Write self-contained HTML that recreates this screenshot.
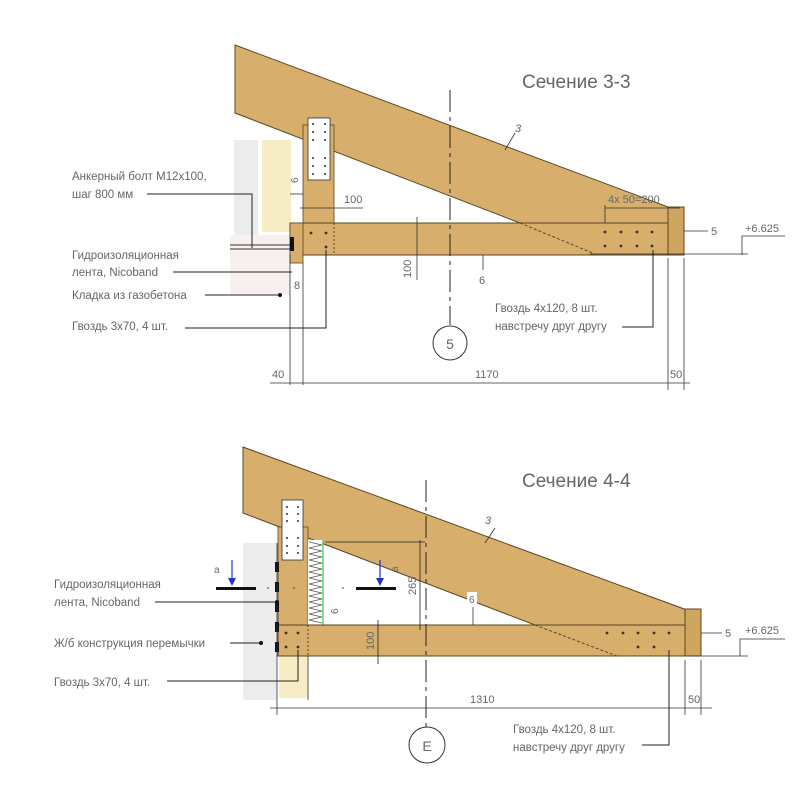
<!DOCTYPE html>
<html><head><meta charset="utf-8"><style>
html,body{margin:0;padding:0;background:#fff;}
svg{display:block;}
text{font-family:"Liberation Sans",sans-serif;fill:#666;}
</style></head><body>
<svg width="805" height="800" viewBox="0 0 805 800" xmlns="http://www.w3.org/2000/svg">
<!-- ===== TOP SECTION 3-3 ===== -->
<rect x="234" y="140" width="24" height="95" fill="#ececec"/>
<rect x="230" y="235" width="60" height="60" fill="#f7f0ee"/>
<rect x="262" y="140" width="29" height="92" fill="#f7edc5"/>
<!-- rafter -->
<polygon points="235,45 668,207 668,223 520,223 235,113" fill="#d8ae6c" stroke="#5a4520" stroke-width="1"/>
<!-- post -->
<rect x="303" y="125" width="31" height="98" fill="#d8ae6c" stroke="#5a4520" stroke-width="0.8"/>
<!-- beam -->
<rect x="290" y="223" width="378" height="32" fill="#d8ae6c" stroke="#5a4520" stroke-width="1"/>
<rect x="290" y="223" width="13" height="40" fill="#d8ae6c" stroke="#5a4520" stroke-width="0.8"/>
<line x1="520" y1="223" x2="595" y2="254" stroke="#5a4520" stroke-dasharray="3,2"/>
<line x1="334" y1="223" x2="334" y2="255" stroke="#5a4520" stroke-dasharray="2,2"/>
<rect x="668" y="207" width="16" height="48" fill="#d0a560" stroke="#5a4520" stroke-width="1"/>
<!-- plate -->
<rect x="308" y="118" width="22" height="62" fill="#fff" stroke="#333" stroke-width="0.8"/>
<g fill="#333">
<circle cx="313" cy="124" r="1"/><circle cx="325" cy="124" r="1"/><circle cx="313" cy="132" r="1"/><circle cx="325" cy="132" r="1"/><circle cx="313" cy="140" r="1"/><circle cx="325" cy="140" r="1"/>
<circle cx="313" cy="158" r="1"/><circle cx="325" cy="158" r="1"/><circle cx="313" cy="166" r="1"/><circle cx="325" cy="166" r="1"/><circle cx="313" cy="174" r="1"/><circle cx="325" cy="174" r="1"/>
<circle cx="311" cy="233" r="1.4"/><circle cx="326" cy="233" r="1.4"/><circle cx="326" cy="247" r="1.4"/>
<circle cx="605" cy="232" r="1.4"/><circle cx="621" cy="232" r="1.4"/><circle cx="637" cy="232" r="1.4"/><circle cx="652" cy="232" r="1.4"/>
<circle cx="605" cy="246" r="1.4"/><circle cx="621" cy="246" r="1.4"/><circle cx="637" cy="246" r="1.4"/><circle cx="652" cy="246" r="1.4"/>
</g>
<rect x="290" y="237" width="4" height="14" fill="#111"/>
<line x1="230" y1="245" x2="290" y2="245" stroke="#333"/>
<line x1="230" y1="249" x2="290" y2="249" stroke="#333"/>
<line x1="290" y1="255" x2="290" y2="385" stroke="#333" stroke-width="0.8"/>
<line x1="303" y1="263" x2="303" y2="385" stroke="#333" stroke-width="0.8"/>
<line x1="668" y1="258" x2="668" y2="390" stroke="#333" stroke-width="0.8"/>
<line x1="684" y1="258" x2="684" y2="390" stroke="#333" stroke-width="0.8"/>
<line x1="590" y1="254" x2="748" y2="254" stroke="#333" stroke-width="0.8"/>
<!-- centerline -->
<line x1="450" y1="90" x2="450" y2="325" stroke="#222" stroke-width="1" stroke-dasharray="22,5,4,5"/>
<circle cx="450" cy="343" r="17" fill="#fff" stroke="#333"/>
<text x="450" y="349" font-size="14" text-anchor="middle" fill="#444">5</text>
<!-- dims top -->
<line x1="270" y1="383" x2="690" y2="383" stroke="#333" stroke-width="0.8"/>
<text x="272" y="378" font-size="11">40</text>
<text x="475" y="378" font-size="11">1170</text>
<text x="670" y="378" font-size="11">50</text>
<line x1="300" y1="208" x2="363" y2="208" stroke="#333" stroke-width="0.8"/>
<text x="344" y="203" font-size="11">100</text>
<line x1="605" y1="208" x2="680" y2="208" stroke="#333" stroke-width="0.8"/>
<line x1="605" y1="205" x2="605" y2="223" stroke="#333" stroke-width="0.8"/>
<text x="608" y="203" font-size="11">4x 50=200</text>
<line x1="417" y1="217" x2="417" y2="280" stroke="#333" stroke-width="0.8"/>
<text x="411" y="278" font-size="11" transform="rotate(-90 411 278)">100</text>
<line x1="684" y1="231" x2="708" y2="231" stroke="#333" stroke-width="0.8"/>
<text x="711" y="235" font-size="11">5</text>
<text x="745" y="232" font-size="11">+6.625</text>
<polyline points="785,236 742,236 742,255" fill="none" stroke="#333" stroke-width="0.8"/>
<line x1="483" y1="255" x2="483" y2="270" stroke="#333" stroke-width="0.8"/>
<text x="479" y="284" font-size="11">6</text>
<line x1="505" y1="150" x2="515" y2="133" stroke="#333" stroke-width="0.8"/>
<text x="515" y="132" font-size="11" font-style="italic">3</text>
<text x="298" y="183" font-size="10" transform="rotate(-90 298 183)">6</text>
<line x1="290" y1="194" x2="303" y2="194" stroke="#333" stroke-width="0.8"/>
<text x="294" y="289" font-size="11">8</text>
<text x="522" y="88" font-size="19" fill="#555">Сечение 3-3</text>
<!-- top labels -->
<g font-size="11.5">
<text x="72" y="180">Анкерный болт М12х100,</text>
<text x="72" y="198">шаг 800 мм</text>
<text x="72" y="259">Гидроизоляционная</text>
<text x="72" y="276">лента, Nicoband</text>
<text x="72" y="299">Кладка из газобетона</text>
<text x="72" y="330">Гвоздь 3х70, 4 шт.</text>
<text x="495" y="312">Гвоздь 4х120, 8 шт.</text>
<text x="495" y="330">навстречу друг другу</text>
</g>
<polyline points="147,194 252,194 252,248" fill="none" stroke="#222"/>
<line x1="173" y1="272" x2="292" y2="272" stroke="#222"/>
<line x1="205" y1="295" x2="280" y2="295" stroke="#222"/><circle cx="280" cy="295" r="2" fill="#111"/>
<polyline points="185,328 326,328 326,250" fill="none" stroke="#222"/>
<polyline points="622,327 653,327 653,250" fill="none" stroke="#222"/>

<!-- ===== BOTTOM SECTION 4-4 ===== -->
<rect x="243" y="543" width="34" height="157" fill="#ececec"/>
<rect x="279" y="656" width="29" height="42" fill="#f7edc5"/>
<polygon points="243,447 687,610 687,625 535,625 243,513" fill="#d8ae6c" stroke="#5a4520" stroke-width="1"/>
<rect x="278" y="527" width="30" height="98" fill="#d8ae6c" stroke="#5a4520" stroke-width="0.8"/>
<rect x="308" y="540" width="15" height="85" fill="#fff"/>
<path d="M309 542 l13 3 l-13 3 l13 3 l-13 3 l13 3 l-13 3 l13 3 l-13 3 l13 3 l-13 3 l13 3 l-13 3 l13 3 l-13 3 l13 3 l-13 3 l13 3 l-13 3 l13 3 l-13 3 l13 3 l-13 3 l13 3 l-13 3 l13 3 l-13 3 l13 3" fill="none" stroke="#555" stroke-width="0.7"/>
<line x1="323" y1="540" x2="323" y2="625" stroke="#3c3" stroke-width="1.2"/>
<rect x="278" y="625" width="407" height="31" fill="#d8ae6c" stroke="#5a4520" stroke-width="1"/>
<line x1="535" y1="625" x2="617" y2="656" stroke="#5a4520" stroke-dasharray="3,2"/>
<line x1="308" y1="625" x2="308" y2="656" stroke="#5a4520" stroke-dasharray="2,2"/>
<rect x="685" y="609" width="16" height="47" fill="#d0a560" stroke="#5a4520" stroke-width="1"/>
<rect x="282" y="500" width="21" height="60" fill="#fff" stroke="#333" stroke-width="0.8"/>
<g fill="#333">
<circle cx="287" cy="507" r="1"/><circle cx="298" cy="507" r="1"/><circle cx="287" cy="514" r="1"/><circle cx="298" cy="514" r="1"/><circle cx="287" cy="521" r="1"/><circle cx="298" cy="521" r="1"/>
<circle cx="287" cy="538" r="1"/><circle cx="298" cy="538" r="1"/><circle cx="287" cy="546" r="1"/><circle cx="298" cy="546" r="1"/><circle cx="287" cy="553" r="1"/><circle cx="298" cy="553" r="1"/>
<circle cx="286" cy="633" r="1.4"/><circle cx="298" cy="633" r="1.4"/><circle cx="286" cy="647" r="1.4"/><circle cx="298" cy="647" r="1.4"/>
<circle cx="607" cy="633" r="1.4"/><circle cx="623" cy="633" r="1.4"/><circle cx="638" cy="633" r="1.4"/><circle cx="654" cy="633" r="1.4"/><circle cx="669" cy="633" r="1.4"/>
<circle cx="638" cy="647" r="1.4"/><circle cx="654" cy="647" r="1.4"/>
<circle cx="294" cy="588" r="0.8"/><circle cx="268" cy="588" r="0.8"/><circle cx="343" cy="588" r="0.8"/>
</g>
<g fill="#111">
<rect x="275" y="562" width="4" height="10"/><rect x="275" y="582" width="4" height="10"/><rect x="275" y="602" width="4" height="10"/><rect x="275" y="622" width="4" height="10"/><rect x="275" y="642" width="4" height="10"/>
</g>
<line x1="277" y1="543" x2="277" y2="715" stroke="#333" stroke-width="0.8"/>
<line x1="308" y1="656" x2="308" y2="700" stroke="#333" stroke-width="0.8"/>
<line x1="685" y1="660" x2="685" y2="715" stroke="#333" stroke-width="0.8"/>
<line x1="701" y1="660" x2="701" y2="715" stroke="#333" stroke-width="0.8"/>
<line x1="690" y1="656" x2="748" y2="656" stroke="#333" stroke-width="0.8"/>
<!-- section marks -->
<rect x="216" y="587" width="40" height="3" fill="#111"/>
<rect x="356" y="587" width="40" height="3" fill="#111"/>
<line x1="232" y1="560" x2="232" y2="584" stroke="#23c" stroke-width="1.2"/><polygon points="228,578 236,578 232,586" fill="#23c"/>
<line x1="380" y1="560" x2="380" y2="584" stroke="#23c" stroke-width="1.2"/><polygon points="376,578 384,578 380,586" fill="#23c"/>
<text x="214" y="573" font-size="10">a</text>
<text x="390" y="572" font-size="10" transform="rotate(-90 394 568)">a</text>
<!-- centerline -->
<line x1="426" y1="480" x2="426" y2="727" stroke="#222" stroke-width="1" stroke-dasharray="22,5,4,5"/>
<circle cx="427" cy="745" r="18" fill="#fff" stroke="#333"/>
<text x="427" y="751" font-size="14" text-anchor="middle" fill="#444">E</text>
<line x1="325" y1="542" x2="425" y2="542" stroke="#222" stroke-width="0.8"/>
<line x1="420" y1="540" x2="420" y2="630" stroke="#222" stroke-width="0.8"/>
<text x="416" y="595" font-size="11" transform="rotate(-90 416 595)">265</text>
<line x1="378" y1="620" x2="378" y2="664" stroke="#222" stroke-width="0.8"/>
<text x="374" y="650" font-size="11" fill="#8a6a30" transform="rotate(-90 374 650)">100</text>
<text x="338" y="614" font-size="10" transform="rotate(-90 338 614)">6</text>
<line x1="473" y1="607" x2="473" y2="625" stroke="#333" stroke-width="0.8"/>
<rect x="467" y="592" width="10" height="14" fill="#fff"/>
<text x="469" y="603" font-size="10">6</text>
<line x1="485" y1="543" x2="495" y2="528" stroke="#333" stroke-width="0.8"/>
<text x="485" y="524" font-size="11" font-style="italic">3</text>
<line x1="270" y1="708" x2="712" y2="708" stroke="#333" stroke-width="0.8"/>
<text x="470" y="703" font-size="11">1310</text>
<text x="688" y="703" font-size="11">50</text>
<line x1="701" y1="633" x2="722" y2="633" stroke="#333" stroke-width="0.8"/>
<text x="725" y="637" font-size="11">5</text>
<text x="745" y="634" font-size="11">+6.625</text>
<polyline points="785,639 740,639 740,656" fill="none" stroke="#333" stroke-width="0.8"/>
<text x="522" y="487" font-size="19" fill="#555">Сечение 4-4</text>
<g font-size="11.5">
<text x="54" y="588">Гидроизоляционная</text>
<text x="54" y="606">лента, Nicoband</text>
<text x="54" y="647">Ж/б конструкция перемычки</text>
<text x="54" y="686">Гвоздь 3х70, 4 шт.</text>
<text x="513" y="733">Гвоздь 4х120, 8 шт.</text>
<text x="513" y="751">навстречу друг другу</text>
</g>
<line x1="155" y1="602" x2="277" y2="602" stroke="#222"/><circle cx="277" cy="602" r="2" fill="#111"/>
<line x1="230" y1="643" x2="260" y2="643" stroke="#222"/><circle cx="261" cy="643" r="2" fill="#111"/>
<polyline points="167,681 298,681 298,650" fill="none" stroke="#222"/>
<polyline points="642,745 669,745 669,650" fill="none" stroke="#222"/>
</svg>
</body></html>
